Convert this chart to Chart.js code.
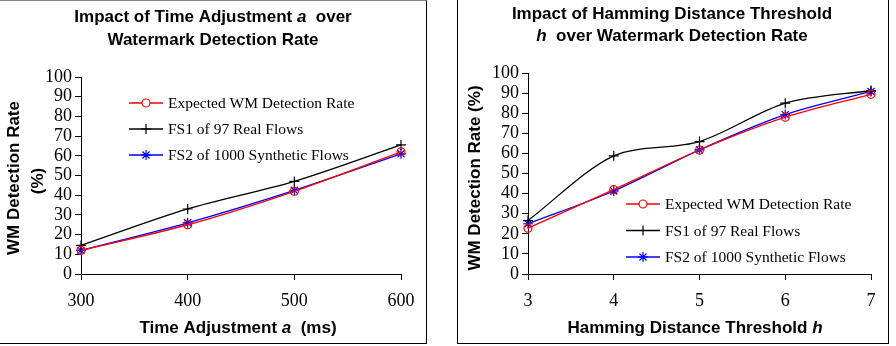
<!DOCTYPE html>
<html>
<head>
<meta charset="utf-8">
<script src="https://cdn.jsdelivr.net/npm/chart.js@4"></script>
<style>
  body { margin: 0; background: #fff; width: 896px; height: 346px; position: relative; overflow: hidden; }
  canvas { position: absolute; top: 0; }
  #c1 { left: 0; }
  #c2 { left: 458px; }
  .frame { position: absolute; box-sizing: border-box; }
  #f1 { left: -2px; top: 0; width: 429px; height: 344px; border: 1px solid #000; border-top-color: #888; }
  #f2 { left: 457px; top: -2px; width: 432px; height: 346px; border: 1px solid #000; }
</style>
</head>
<body>
<div class="frame" id="f1"></div>
<div class="frame" id="f2"></div>
<canvas id="c1" width="427" height="343"></canvas>
<canvas id="c2" width="430" height="343"></canvas>
<script>
// données du graphique de gauche
const timeLabels = ["300", "400", "500", "600"];
const timeExpected = [12, 25, 42, 62];
const timeFS1 = [14.5, 33, 47, 65.5];
const timeFS2 = [12, 26, 42.5, 61];

// données du graphique de droite
const hamLabels = ["3", "4", "5", "6", "7"];
const hamExpected = [22.8, 42, 61.7, 78, 89.4];
const hamFS1 = [26.6, 58.8, 65.9, 85, 91.3];
const hamFS2 = [25, 41.3, 61.8, 79.3, 90.8];

const seriesNames = ["Expected WM Detection Rate", "FS1 of 97 Real Flows", "FS2 of 1000 Synthetic Flows"];
const yTicks = [0, 10, 20, 30, 40, 50, 60, 70, 80, 90, 100];

const serif = '"Liberation Serif", "Times New Roman", serif';
const sans = '"Liberation Sans", Arial, sans-serif';
const boldFont = "bold 17px " + sans;
const italicFont = "italic bold 17px " + sans;

// styles des séries
const styles = [
  { color: "#ff0000", pointStyle: "circle", radius: 4 },
  { color: "#000000", pointStyle: "cross", radius: 5 },
  { color: "#0000ff", pointStyle: "star", radius: 5 },
];

function makeDatasets(values) {
  return values.map((v, i) => ({
    label: seriesNames[i],
    data: v,
    borderColor: styles[i].color,
    backgroundColor: "transparent",
    borderWidth: 1.3,
    pointStyle: styles[i].pointStyle,
    pointRadius: styles[i].radius,
    pointBorderColor: styles[i].color,
    pointBackgroundColor: "transparent",
    pointBorderWidth: 1.2,
    tension: 0.3,
  }));
}

// dessine un texte avec plusieurs polices, centré sur (cx, cy)
function drawMixed(ctx, parts, cx, cy) {
  let total = 0;
  parts.forEach((p) => { ctx.font = p[1]; total += ctx.measureText(p[0]).width; });
  let x = cx - total / 2;
  ctx.textAlign = "left";
  ctx.textBaseline = "middle";
  parts.forEach((p) => {
    ctx.font = p[1];
    ctx.fillText(p[0], x, cy);
    x += ctx.measureText(p[0]).width;
  });
}

// plugin pour les titres et la légende
const decorPlugin = {
  id: "decor",
  afterDraw(chart, args, opts) {
    const ctx = chart.ctx;
    ctx.save();
    ctx.fillStyle = "#000";
    opts.titles.forEach((t) => drawMixed(ctx, t.parts, t.x, t.y));
    opts.yTitles.forEach((t) => {
      ctx.save();
      ctx.translate(t.x, t.y);
      ctx.rotate(-Math.PI / 2);
      drawMixed(ctx, t.parts, 0, 0);
      ctx.restore();
    });
    // légende
    const lg = opts.legend;
    seriesNames.forEach((name, i) => {
      const y = lg.y + i * lg.gap;
      ctx.strokeStyle = styles[i].color;
      ctx.lineWidth = 1.3;
      ctx.beginPath();
      ctx.moveTo(lg.x, y);
      ctx.lineTo(lg.x + 34, y);
      ctx.stroke();
      ctx.lineWidth = 1.2;
      ctx.fillStyle = "#fff";
      Chart.helpers.drawPoint(ctx, { pointStyle: styles[i].pointStyle, radius: styles[i].radius, rotation: 0, borderWidth: 1.2 }, lg.x + 17, y);
      ctx.fillStyle = "#000";
      ctx.font = "15.5px " + serif;
      ctx.textAlign = "left";
      ctx.textBaseline = "middle";
      ctx.fillText(name, lg.x + 39, y + 1);
    });
    ctx.restore();
  },
};

function makeOptions(pad, yWidth, xHeight, decor) {
  return {
    responsive: false,
    animation: false,
    layout: { padding: pad },
    plugins: { legend: { display: false }, tooltip: { enabled: false }, decor: decor },
    scales: {
      x: {
        type: "category",
        offset: false,
        grid: { drawOnChartArea: false, color: "#000", tickLength: 6, tickWidth: 1 },
        border: { color: "#000", width: 1 },
        ticks: { color: "#000", font: { family: serif, size: 18 }, padding: 10, maxRotation: 0 },
        afterFit(s) { s.height = xHeight; },
      },
      y: {
        min: 0,
        max: 100,
        afterBuildTicks(s) { s.ticks = yTicks.map((v) => ({ value: v })); },
        grid: { drawOnChartArea: false, color: "#000", tickLength: 6, tickWidth: 1 },
        border: { color: "#000", width: 1 },
        ticks: { color: "#000", font: { family: serif, size: 18 }, padding: 3, autoSkip: false, stepSize: 10 },
        afterFit(s) { s.width = yWidth; },
      },
    },
  };
}

new Chart(document.getElementById("c1"), {
  type: "line",
  data: { labels: timeLabels, datasets: makeDatasets([timeExpected, timeFS1, timeFS2]) },
  options: makeOptions({ top: 77, right: 26, bottom: 0, left: 0 }, 81, 69, {
    titles: [
      { parts: [["Impact of Time Adjustment ", boldFont], ["a", italicFont], ["  over", boldFont]], x: 213, y: 17 },
      { parts: [["Watermark Detection Rate", boldFont]], x: 213, y: 40 },
      { parts: [["Time Adjustment ", boldFont], ["a", italicFont], ["  (ms)", boldFont]], x: 238, y: 328 },
    ],
    yTitles: [
      { parts: [["WM Detection Rate", boldFont]], x: 14, y: 178 },
      { parts: [["(%)", boldFont]], x: 38, y: 181 },
    ],
    legend: { x: 129, y: 103, gap: 26 },
  }),
  plugins: [decorPlugin],
});

new Chart(document.getElementById("c2"), {
  type: "line",
  data: { labels: hamLabels, datasets: makeDatasets([hamExpected, hamFS1, hamFS2]) },
  options: makeOptions({ top: 73, right: 17, bottom: 0, left: 0 }, 70, 69, {
    titles: [
      { parts: [["Impact of Hamming Distance Threshold", boldFont]], x: 214, y: 14 },
      { parts: [["h", italicFont], ["  over Watermark Detection Rate", boldFont]], x: 214, y: 36 },
      { parts: [["Hamming Distance Threshold ", boldFont], ["h", italicFont]], x: 237, y: 328 },
    ],
    yTitles: [
      { parts: [["WM Detection Rate (%)", boldFont]], x: 17, y: 178 },
    ],
    legend: { x: 168, y: 204, gap: 26.5 },
  }),
  plugins: [decorPlugin],
});
</script>
</body>
</html>
